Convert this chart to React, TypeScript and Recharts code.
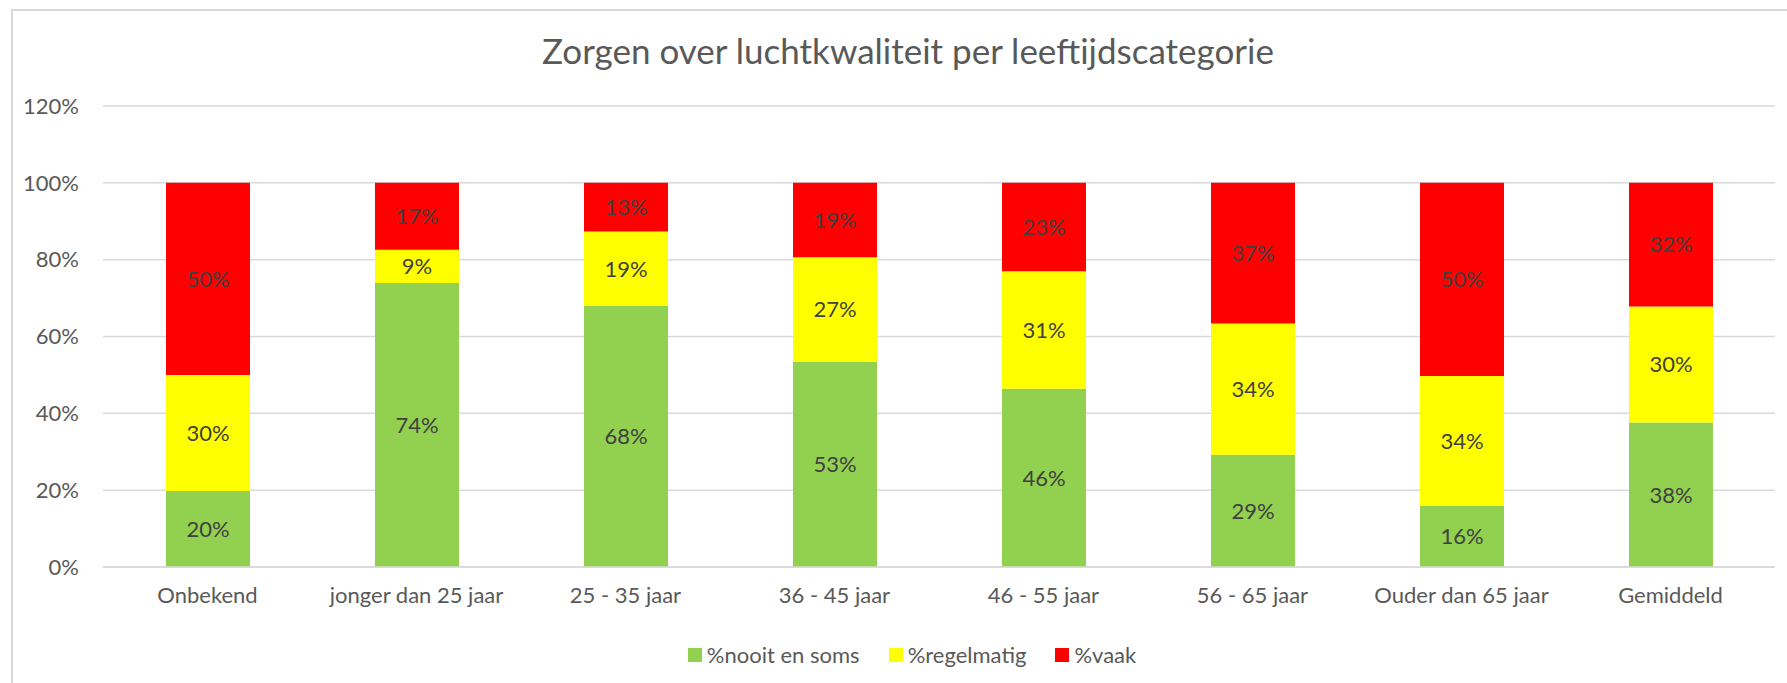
import React from "react";
import { BarChart, Bar, XAxis, YAxis, CartesianGrid, Legend, LabelList } from "recharts";

const categories = [
  "Onbekend",
  "jonger dan 25 jaar",
  "25 - 35 jaar",
  "36 - 45 jaar",
  "46 - 55 jaar",
  "56 - 65 jaar",
  "Ouder dan 65 jaar",
  "Gemiddeld",
];
const nooitEnSoms = [19.8, 73.9, 68.0, 53.4, 46.4, 29.2, 15.9, 37.6];
const regelmatig = [30.2, 8.7, 19.3, 27.2, 30.6, 34.2, 33.8, 30.2];
const vaak = [50.0, 17.4, 12.7, 19.4, 23.0, 36.6, 50.3, 32.2];
const yTicks = [0, 20, 40, 60, 80, 100, 120];

const seriesNames = ["%nooit en soms", "%regelmatig", "%vaak"];
const seriesColors = ["#92D050", "#FFFF00", "#FF0000"];
const title = "Zorgen over luchtkwaliteit per leeftijdscategorie";

const data = categories.map((c, i) => ({
  name: c,
  nooit: nooitEnSoms[i],
  regelmatig: regelmatig[i],
  vaak: vaak[i],
}));

const FONT = "Lato, 'Open Sans', sans-serif";

const fmt = (v: any) => `${Math.round(Number(v))}%`;

const LegendContent = () => (
  <div
    style={{
      display: "flex",
      justifyContent: "center",
      alignItems: "center",
      width: 1770,
      paddingLeft: 54,
      boxSizing: "border-box",
      fontFamily: FONT,
      fontSize: 22,
      color: "#595959",
    }}
  >
    {seriesNames.map((n, i) => (
      <div key={n} style={{ display: "flex", alignItems: "center", marginLeft: i === 0 ? 0 : 29 }}>
        <div style={{ width: 14, height: 14, background: seriesColors[i], marginRight: 5 }} />
        <span>{n}</span>
      </div>
    ))}
  </div>
);

export default function App() {
  const keys = ["nooit", "regelmatig", "vaak"];
  return (
    <div
      style={{
        position: "fixed",
        left: 0,
        top: 0,
        width: 1787,
        height: 683,
        overflow: "hidden",
        background: "#fff",
        fontFamily: FONT,
      }}
    >
      <style>{"html,body{overflow:hidden;}"}</style>
      <div
        style={{
          position: "absolute",
          left: 11,
          top: 9,
          width: 1776,
          height: 674,
          borderTop: "2px solid #d9d9d9",
          borderLeft: "2px solid #d9d9d9",
          boxSizing: "border-box",
        }}
      />
      <svg
        width={1787}
        height={100}
        style={{ position: "absolute", left: 0, top: 0, pointerEvents: "none" }}
      >
        <text
          x={908}
          y={64}
          textAnchor="middle"
          fontFamily={FONT}
          fontSize={35}
          fill="#595959"
        >
          {title}
        </text>
      </svg>
      <div style={{ position: "absolute", left: 0, top: 0 }}>
        <BarChart
          width={1787}
          height={683}
          data={data}
          margin={{ top: 106, right: 12, left: 23, bottom: 59 }}
        >
          <CartesianGrid vertical={false} stroke="#d9d9d9" strokeWidth={1.5} />
          <XAxis
            dataKey="name"
            axisLine={{ stroke: "#d9d9d9", strokeWidth: 1.5 }}
            tickLine={false}
            tickSize={0}
            tickMargin={20}
            height={30}
            interval={0}
            tick={{ fill: "#595959", fontSize: 22, fontFamily: FONT }}
          />
          <YAxis
            domain={[0, 120]}
            ticks={yTicks}
            tickFormatter={(v: number) => `${v}%`}
            axisLine={false}
            tickLine={false}
            tickSize={0}
            tickMargin={24}
            width={80}
            interval={0}
            tick={{ fill: "#595959", fontSize: 22, fontFamily: FONT }}
          />
          <Legend
            verticalAlign="bottom"
            content={<LegendContent />}
            wrapperStyle={{ position: "absolute", top: 641, left: 0, width: 1770, bottom: "auto" }}
          />
          {keys.map((k, i) => (
            <Bar
              key={k}
              dataKey={k}
              name={seriesNames[i]}
              stackId="a"
              fill={seriesColors[i]}
              barSize={84}
              isAnimationActive={false}
            >
              <LabelList
                dataKey={k}
                position="center"
                formatter={fmt}
                fill="#404040"
                fontSize={22}
                fontFamily={FONT}
              />
            </Bar>
          ))}
        </BarChart>
      </div>
    </div>
  );
}
